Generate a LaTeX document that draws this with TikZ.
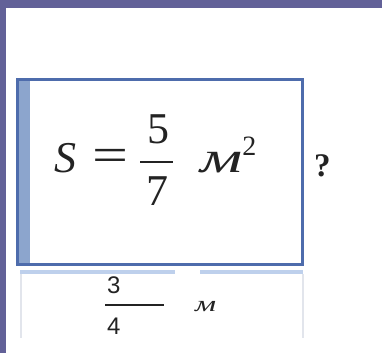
\documentclass[tikz,border=0pt]{standalone}
\usepackage{amsmath}
\usepackage{fontspec}
\setmainfont{Liberation Serif}
\newfontfamily\timesfont{Liberation Serif}
\newfontfamily\arialfont{Liberation Sans}
\usetikzlibrary{positioning}

\definecolor{band}{RGB}{98,97,152}
\definecolor{frame}{RGB}{78,108,172}
\definecolor{framebar}{RGB}{140,165,205}
\definecolor{underline}{RGB}{190,208,236}
\definecolor{faint}{RGB}{226,229,236}
\definecolor{ink}{RGB}{35,35,35}

\begin{document}
\begin{tikzpicture}[x=1pt, y=-1pt,
  bigtext/.style={inner sep=0pt, text=ink, font=\timesfont\fontsize{44}{44}\selectfont},
  smalltext/.style={inner sep=0pt, text=ink, font=\arialfont\fontsize{24}{24}\selectfont}]
\useasboundingbox (0,0) rectangle (382,353);

\fill [band] (0,0) rectangle (382,8);
\fill [band] (0,0) rectangle (6,353);

\draw [underline, line width=4pt] (20,272) to (175,272);
\draw [underline, line width=4pt] (200,272) to (303,272);
\draw [faint, line width=1.5pt] (21,274) to (21,338);
\draw [faint, line width=1.5pt] (303,274) to (303,338);

\fill [framebar] (16,78) rectangle (30,265);
\draw [frame, line width=3pt] (17.5,79.5) rectangle (302,264);

% area formula
\node [anchor=base west, bigtext] (s) at (54,172) {\itshape S};
\node [bigtext] (eq) at (110,160) {\scalebox{1.45}[1.1]{=}};
\node [anchor=base, bigtext] (five) at (158,143) {5};
\node [anchor=base, bigtext] (seven) at (157,205) {7};
\coordinate (fbarl) at (140,162);
\coordinate (fbarr) at (173,162);
\draw [ink, line width=1.6pt] (fbarl) to (fbarr);
\node [anchor=base west, bigtext] (unitsq) at (200,172)
  {\scalebox{1.5}[1]{\itshape м}\raisebox{17pt}{\fontsize{28}{28}\selectfont 2}};
\node [anchor=base west, bigtext, font=\timesfont\bfseries\fontsize{33}{33}\selectfont] (qmark) at (314,176) {?};

% side length
\node [anchor=base west, smalltext] (three) at (107,293) {3};
\node [anchor=base west, smalltext] (four) at (107,334) {4};
\coordinate (barl) at (105,305);
\coordinate (barr) at (164,305);
\draw [ink, line width=1.2pt] (barl) to (barr);
\node [anchor=base west, bigtext, font=\timesfont\itshape\fontsize{22}{22}\selectfont] (unitm) at (195,311)
  {\scalebox{1.5}[1]{м}};

\end{tikzpicture}
\end{document}
